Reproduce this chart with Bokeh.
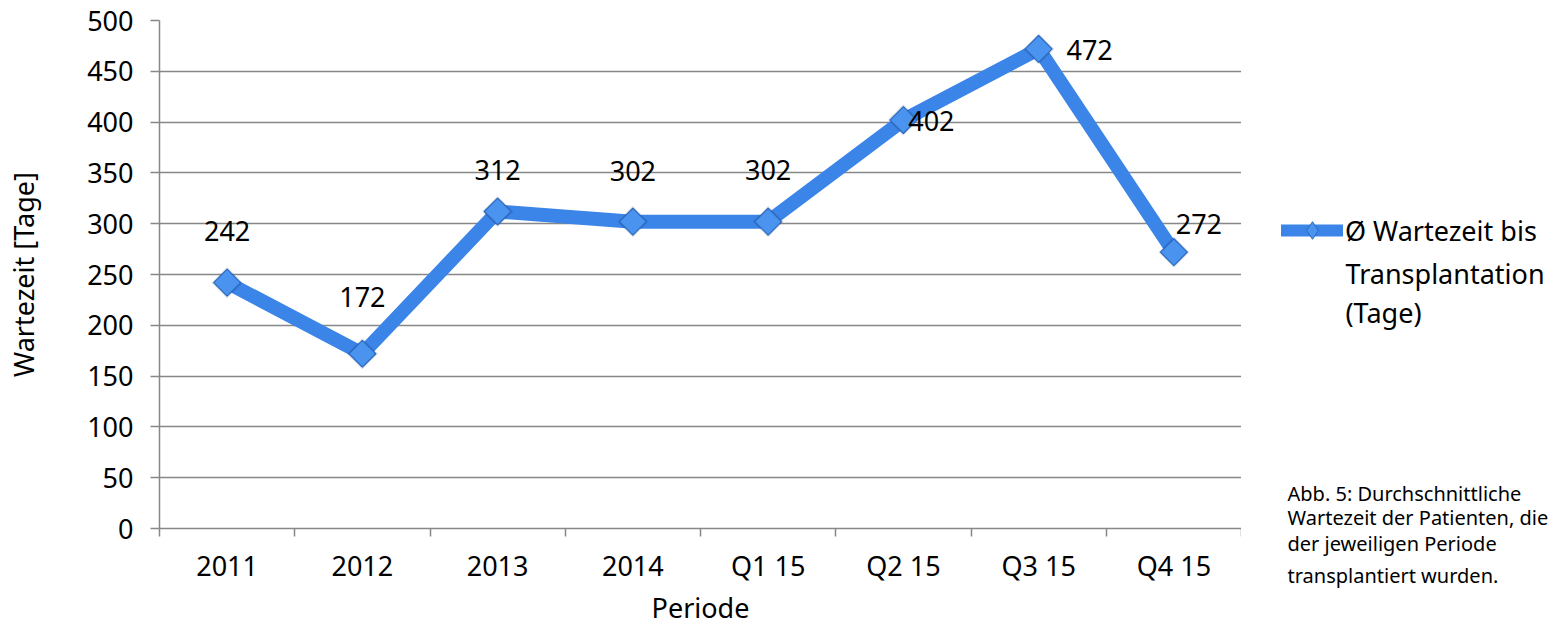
from bokeh.plotting import figure
from bokeh.layouts import row
from bokeh.models import Range1d, FixedTicker, Legend, LegendItem, Label, Title, ColumnDataSource
from bokeh.core.properties import value
from bokeh.embed import file_html
from bokeh.resources import INLINE

categories = ["2011", "2012", "2013", "2014", "Q1 15", "Q2 15", "Q3 15", "Q4 15"]
wartezeit = [242, 172, 312, 302, 302, 402, 472, 272]
legend_lines = ["Ø Wartezeit bis", "Transplantation", "(Tage)"]
y_ticks = [0, 50, 100, 150, 200, 250, 300, 350, 400, 450, 500]
caption_lines = ["Abb. 5: Durchschnittliche", "Wartezeit der Patienten, die",
                 "der jeweiligen Periode", "transplantiert wurden."]

# label placement (pixel offsets), style only
lab_dx = [0, 0, 0, 0, 0, 28, 51, 25]
lab_dy = [-52, -57, -42, -51, -52, 1, 1, -28]

FONT = "Noto Sans"
FS = "27px"
BLUE = "#3B84E8"
GRID = "#878787"

xs = [i + 0.5 for i in range(len(categories))]
src = ColumnDataSource(dict(x=xs, y=wartezeit, t=[str(v) for v in wartezeit], dx=lab_dx, dy=lab_dy))

p = figure(width=1241, height=628, output_backend="svg", toolbar_location=None,
           x_range=Range1d(0, len(categories)), y_range=Range1d(0, 500),
           min_border_left=159, min_border_right=0, min_border_top=20, min_border_bottom=99)
p.outline_line_color = None

# axes
p.xaxis.ticker = FixedTicker(ticks=xs, minor_ticks=list(range(len(categories) + 1)))
p.xaxis.major_label_overrides = {x: c for x, c in zip(xs, categories)}
p.xaxis.major_tick_line_color = None
p.xaxis.minor_tick_out = 8
p.xaxis.minor_tick_in = 0
p.xaxis.minor_tick_line_color = GRID
p.xaxis.minor_tick_line_width = 1.5
p.xaxis.axis_line_color = GRID
p.xaxis.major_label_standoff = 10
p.xaxis.axis_label = "Periode"
p.xaxis.axis_label_standoff = 2

p.yaxis.ticker = FixedTicker(ticks=y_ticks)
p.yaxis.minor_tick_line_color = None
p.yaxis.major_tick_out = 9
p.yaxis.major_tick_in = 0
p.yaxis.major_tick_line_color = GRID
p.yaxis.major_tick_line_width = 1.5
p.yaxis.axis_line_color = GRID
p.yaxis.major_label_standoff = 17
p.yaxis.axis_label = "Wartezeit [Tage]"
p.yaxis.axis_label_standoff = 42

for ax in (p.xaxis, p.yaxis):
    ax.major_label_text_font = FONT
    ax.major_label_text_font_size = FS
    ax.major_label_text_color = "black"
    ax.axis_label_text_font = FONT
    ax.axis_label_text_font_size = FS
    ax.axis_label_text_font_style = "normal"
    ax.axis_label_text_color = "black"
    ax.axis_line_width = 1.5

p.xgrid.grid_line_color = None
p.ygrid.grid_line_color = GRID
p.ygrid.grid_line_width = 1.5

p.line("x", "y", source=src, line_color=BLUE, line_width=14, line_join="round", line_cap="round")
p.scatter("x", "y", source=src, marker="square", angle=0.785398, size=22, fill_color="#1d3f70",
          fill_alpha=0.18, line_color=None)
p.scatter("x", "y", source=src, marker="square", angle=0.785398, size=19, fill_color="#4A93EE",
          line_color="#2C69BF", line_width=1.2)

p.text("x", "y", text="t", source=src, x_offset="dx", y_offset="dy",
       text_align="center", text_baseline="middle", text_font=value(FONT),
       text_font_size=FS, text_color="black")

# side panel: legend and caption (its frame is aligned with the main frame, page y 20..529)
q = figure(width=316, height=628, output_backend="svg", toolbar_location=None, title=None,
           x_range=Range1d(0, 316), y_range=Range1d(529, 20),
           min_border=0, min_border_left=0, min_border_right=0, min_border_top=0, min_border_bottom=0,
           x_axis_type=None, y_axis_type=None)
q.outline_line_color = None
q.grid.visible = False
swatch = ColumnDataSource(dict(x=[float("nan")], y=[float("nan")]))
lr = q.line("x", "y", source=swatch, line_color=BLUE, line_width=12, line_cap="round")
mr = q.scatter("x", "y", source=swatch, marker="diamond", size=13,
               fill_color="#4A93EE", line_color="#2C69BF", line_width=1)

legend = Legend(items=[LegendItem(label=legend_lines[0], renderers=[lr, mr], index=0)],
                location=(40, 276), glyph_width=62, glyph_height=44,
                label_text_font=FONT, label_text_font_size=FS, label_text_color="black",
                label_standoff=2, padding=0, spacing=0, margin=0,
                border_line_color=None, background_fill_alpha=0)
q.add_layout(legend, "center")

for i, txt in enumerate(legend_lines[1:]):
    q.add_layout(Label(x=104, y=273 + 40 * i, text=txt, text_font=FONT, text_font_size=FS,
                       text_baseline="middle", text_color="black"))

# caption: first two lines inside the panel frame, the rest in the panel's lower border
for i, txt in enumerate(caption_lines[:2]):
    q.add_layout(Label(x=46, y=494 + 23.7 * i, text=txt, text_font=FONT, text_font_size="20px",
                       text_baseline="middle", text_color="black"))
q.add_layout(Title(text="\n".join(caption_lines[2:]), align="left", offset=46, standoff=0,
                   text_font=FONT, text_font_size="20px", text_font_style="normal",
                   text_color="black", text_line_height=1.2), "below")

layout = row(p, q, spacing=0)
open("out.html", "w").write(file_html(layout, INLINE))
